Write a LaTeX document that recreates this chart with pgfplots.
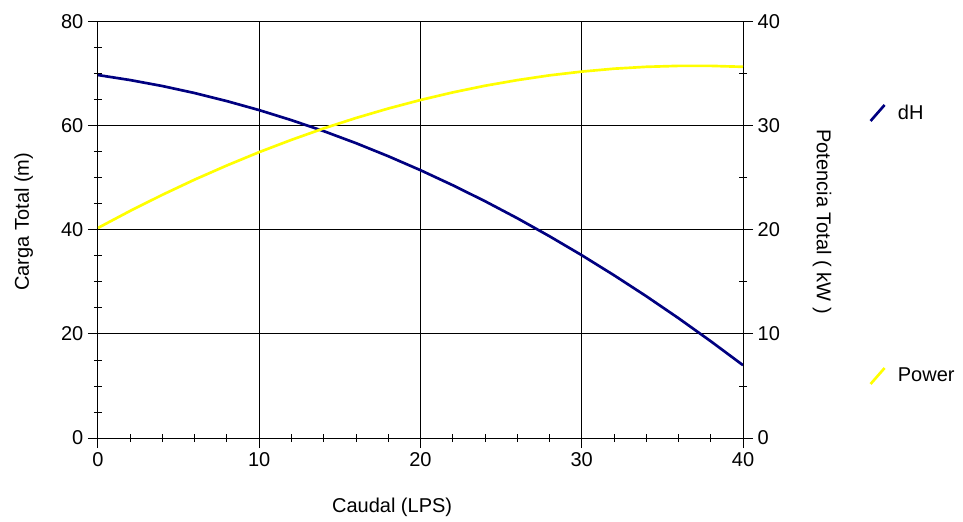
\documentclass[border=0pt]{standalone}
\usepackage{fontspec}
\setmainfont{Liberation Sans}
\usepackage{pgfplots}
\pgfplotsset{compat=1.18}
\definecolor{dhblue}{RGB}{0,0,128}
\definecolor{pwyellow}{RGB}{255,255,0}

\begin{document}
\begin{tikzpicture}[font=\fontsize{15}{18}\selectfont]
\pgfplotsset{
  every axis/.append style={
    scale only axis, width=483.75pt, height=312pt,
    xmin=0, xmax=40,
    tick align=center,
    major tick length=15pt, minor tick length=6pt,
    tick style={black, line width=0.75pt},
    axis line style={black, line width=0.75pt},
    /pgf/number format/assume math mode=true,
    legend image code/.code={\draw[#1] (0pt,-6pt) -- (10.5pt,6pt);},
    legend style={draw=none, fill=none, inner sep=0pt,
      nodes={inner sep=0pt},
      /tikz/every odd column/.append style={column sep=9pt}},
  },
}
% dH - eje izquierdo
\begin{axis}[
  name=ax,
  ymin=0, ymax=80,
  xtick={0,10,...,40}, ytick={0,20,...,80},
  minor x tick num=4, minor y tick num=3,
  xtick pos=bottom, ytick pos=left,
  grid=major, grid style={black, line width=0.75pt},
  xlabel={Caudal (LPS)}, ylabel={Carga Total (m)},
  xlabel style={at={(axis description cs:0.456,-0.166)}, anchor=center},
  ylabel style={at={(axis description cs:-0.115,0.52)}, anchor=center},
  legend style={at={(axis description cs:1.1953,0.78125)}, anchor=west},
]
\addplot[dhblue, line width=2pt] coordinates {
  (0,69.80) (2,68.83) (4,67.68) (6,66.33) (8,64.78) (10,63.05)
  (12,61.12) (14,59.01) (16,56.70) (18,54.19) (20,51.50)
  (22,48.61) (24,45.54) (26,42.27) (28,38.80) (30,35.15)
  (32,31.30) (34,27.27) (36,23.04) (38,18.61) (40,14.00)
};
\addlegendentry{dH}
\end{axis}
% Power - eje derecho
\begin{axis}[
  ymin=0, ymax=40,
  axis x line=none, axis y line*=right,
  ytick={0,10,...,40}, minor y tick num=1,
  ylabel={Potencia Total ( kW )},
  ylabel style={at={(axis description cs:1.1225,0.52)}, anchor=center, rotate=180},
  legend style={at={(axis description cs:1.1953,0.149)}, anchor=west},
]
\addplot[pwyellow, line width=2pt] coordinates {
  (0,20.20) (2,21.84) (4,23.39) (6,24.85) (8,26.21) (10,27.49)
  (12,28.67) (14,29.77) (16,30.77) (18,31.68) (20,32.50)
  (22,33.23) (24,33.87) (26,34.41) (28,34.87) (30,35.23)
  (32,35.51) (34,35.69) (36,35.78) (38,35.78) (40,35.69)
};
\addlegendentry{Power}
\end{axis}
\pgfresetboundingbox
\path ([xshift=-73.5pt,yshift=-62.25pt]ax.south west) rectangle ([xshift=165pt,yshift=16.5pt]ax.north east);
\end{tikzpicture}
\end{document}
